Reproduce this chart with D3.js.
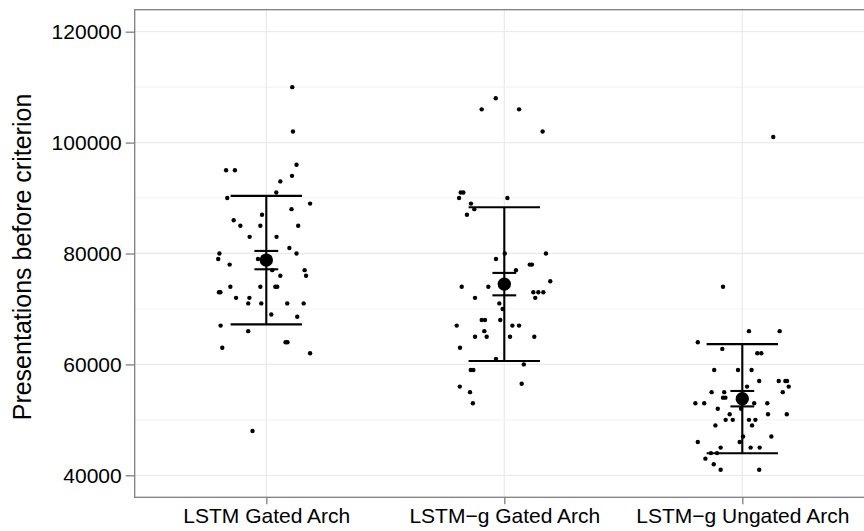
<!DOCTYPE html>
<html><head><meta charset="utf-8">
<script src="https://cdn.jsdelivr.net/npm/d3@7"></script>
<style>html,body{margin:0;padding:0;background:#fff;} svg{display:block;}</style>
</head><body>
<script>
const categories = ["LSTM Gated Arch", "LSTM\u2212g Gated Arch", "LSTM\u2212g Ungated Arch"];
const values1 = [110000,102000,96000,95000,95000,94000,93000,91000,90000,89000,88000,87000,86000,85000,85000,85000,83000,83000,81000,80000,80000,79000,79000,78000,77000,77000,76000,76000,74000,74000,74000,74000,73000,73000,72000,72000,71000,71000,71000,71000,69000,68600,67000,66000,64000,64000,63000,62000,48000];
const jitter1 = [0.109,0.112,0.127,-0.169,-0.132,0.108,0.059,0.042,-0.164,0.184,0.106,-0.018,-0.137,-0.109,-0.025,0.134,-0.070,0.043,0.097,-0.197,0.127,-0.202,-0.035,-0.154,0.161,0.025,0.059,0.167,-0.151,-0.025,0.038,0.046,-0.199,-0.193,-0.127,-0.071,-0.076,-0.021,0.088,0.157,0.021,0.130,-0.192,-0.076,0.081,0.089,-0.185,0.184,-0.058];
const values2 = [108000,106000,106000,102000,91000,91000,90000,90000,89000,88000,87000,80000,80000,79000,78000,78000,77000,75000,74000,74000,73000,73000,73000,72000,72000,71000,70000,68000,68000,68000,67000,67000,67000,66000,65000,65000,65000,65000,63000,61000,60000,59000,59000,56500,56000,55000,53000];
const jitter2 = [-0.036,-0.095,0.062,0.161,-0.183,-0.172,-0.190,0.013,-0.140,-0.126,-0.157,0.002,0.175,-0.035,0.107,0.116,0.049,0.193,-0.179,-0.067,0.122,0.143,0.164,-0.123,0.130,-0.021,-0.007,-0.095,-0.081,-0.017,-0.200,0.034,0.062,-0.084,-0.123,-0.074,0.024,0.126,-0.186,-0.035,0.082,-0.141,-0.130,0.073,-0.187,-0.144,-0.132];
const values3 = [101000,74000,66000,66000,64000,62800,62000,62000,59000,59000,59000,57000,57000,57000,57000,56000,56000,55000,55000,55000,54000,54000,53000,53000,53000,53000,52000,52000,51000,51000,51000,50000,50000,50000,50000,49000,49000,47000,47000,46000,46000,45000,45000,45000,44000,44000,43000,42000,41000,41000];
const jitter3 = [0.130,-0.081,0.028,0.157,-0.187,-0.084,0.063,0.080,-0.118,-0.018,0.039,0.071,0.153,0.181,0.188,0.195,0.020,-0.129,-0.076,0.170,-0.081,-0.071,-0.197,-0.160,0.050,0.105,-0.005,-0.103,-0.053,0.108,0.187,-0.070,-0.040,0.028,0.055,-0.113,0.041,0.122,0.003,-0.187,-0.011,-0.091,0.035,0.073,-0.132,-0.106,-0.155,-0.120,-0.091,0.071];
const yTicks = [40000, 60000, 80000, 100000, 120000];
const yMinorTicks = [50000, 70000, 90000, 110000];
const yTitle = "Presentations before criterion";

const W = 864, H = 531;
const panel = {left: 134.7, right: 873.9, top: 9.7, bottom: 497.3};
const FONT = "'Liberation Sans', Arial, Helvetica, sans-serif";

const groups = [values1, values2, values3].map((vals, i) => {
  const jit = [jitter1, jitter2, jitter3][i];
  const n = vals.length;
  const mean = d3.mean(vals);
  const sd = d3.deviation(vals);
  const se = sd / Math.sqrt(n);
  return {cat: categories[i], points: vals.map((v, k) => ({v, j: jit[k]})), mean, sd, se};
});

const svg = d3.select("body").append("svg").attr("width", W).attr("height", H);

const x = d3.scalePoint().domain(categories).range([266.3, 742.3]);
const y = d3.scaleLinear().domain([36033, 123967]).range([panel.bottom, panel.top]);
const step = x.step();

svg.append("rect").attr("x", panel.left).attr("y", panel.top)
  .attr("width", panel.right - panel.left).attr("height", panel.bottom - panel.top)
  .attr("fill", "#fff");

svg.append("g").selectAll("line").data(yMinorTicks).join("line")
  .attr("x1", panel.left).attr("x2", panel.right)
  .attr("y1", d => y(d)).attr("y2", d => y(d))
  .attr("stroke", "#f4f4f4").attr("stroke-width", 1.1);
svg.append("g").selectAll("line").data(yTicks).join("line")
  .attr("x1", panel.left).attr("x2", panel.right)
  .attr("y1", d => y(d)).attr("y2", d => y(d))
  .attr("stroke", "#ebebeb").attr("stroke-width", 1.3);
svg.append("g").selectAll("line").data(categories).join("line")
  .attr("x1", d => x(d)).attr("x2", d => x(d))
  .attr("y1", panel.top).attr("y2", panel.bottom)
  .attr("stroke", "#ebebeb").attr("stroke-width", 1.3);

const gp = svg.append("g");
groups.forEach(g => {
  gp.selectAll(null).data(g.points).join("circle")
    .attr("cx", d => x(g.cat) + d.j * step)
    .attr("cy", d => y(d.v))
    .attr("r", 2.2).attr("fill", "#000");
});

const ge = svg.append("g").attr("stroke", "#000").attr("stroke-width", 2.1);
groups.forEach(g => {
  const cx = x(g.cat);
  ge.append("line").attr("x1", cx).attr("x2", cx)
    .attr("y1", y(g.mean + g.sd)).attr("y2", y(g.mean - g.sd));
  [g.mean + g.sd, g.mean - g.sd].forEach(v => {
    ge.append("line").attr("x1", cx - 0.15 * step).attr("x2", cx + 0.15 * step)
      .attr("y1", y(v)).attr("y2", y(v));
  });
  [g.mean + g.se, g.mean - g.se].forEach(v => {
    ge.append("line").attr("x1", cx - 0.05 * step).attr("x2", cx + 0.05 * step)
      .attr("y1", y(v)).attr("y2", y(v));
  });
});
svg.append("g").selectAll("circle").data(groups).join("circle")
  .attr("cx", d => x(d.cat)).attr("cy", d => y(d.mean))
  .attr("r", 6.7).attr("fill", "#000");

svg.append("rect").attr("x", panel.left).attr("y", panel.top)
  .attr("width", panel.right - panel.left).attr("height", panel.bottom - panel.top)
  .attr("fill", "none").attr("stroke", "#7f7f7f").attr("stroke-width", 1.3);

const yAxis = d3.axisLeft(y).tickValues(yTicks).tickSize(9).tickPadding(4).tickFormat(d3.format("d"));
const ya = svg.append("g").attr("transform", `translate(${panel.left},0)`).call(yAxis);
ya.select(".domain").remove();
ya.selectAll(".tick line").attr("stroke", "#7f7f7f").attr("stroke-width", 1.3);
ya.selectAll(".tick text").attr("fill", "#000").style("font-family", FONT).style("font-size", "21px");

const xAxis = d3.axisBottom(x).tickSize(7).tickPadding(4);
const xa = svg.append("g").attr("transform", `translate(0,${panel.bottom})`).call(xAxis);
xa.select(".domain").remove();
xa.selectAll(".tick line").attr("stroke", "#7f7f7f").attr("stroke-width", 1.3);
xa.selectAll(".tick text").attr("fill", "#000").style("font-family", FONT).style("font-size", "21px");

svg.append("text")
  .attr("transform", `translate(31,257) rotate(-90)`)
  .attr("text-anchor", "middle")
  .style("font-family", FONT).style("font-size", "25px").attr("fill", "#000")
  .text(yTitle);
</script>
</body></html>
